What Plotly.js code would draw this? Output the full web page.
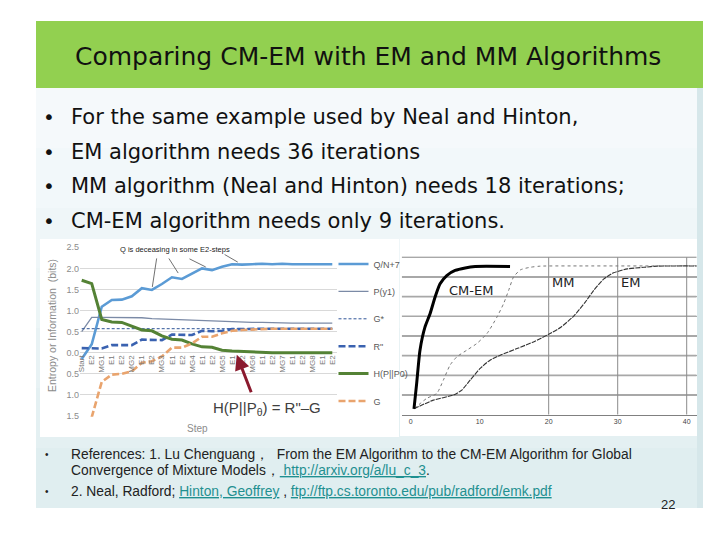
<!DOCTYPE html>
<html>
<head>
<meta charset="utf-8">
<script src="https://cdn.plot.ly/plotly-3.0.1.min.js"></script>
<style>
html,body{margin:0;padding:0;background:#fff;}
#chart{width:720px;height:540px;}
</style>
</head>
<body>
<div id="chart"></div>
<script>
// ---------- DATA ----------
// Left chart: steps of the CM-EM iteration
const steps = [0,1,2,3,4,5,6,7,8,9,10,11,12,13,14,15,16,17,18,19,20,21,22,23,24,25];
const stepLabels = ["Start","E2","MG1","E1","E2","MG2","E1","E2","MG3","E1","E2","MG4","E1","E2","MG5","E1","E2","MG6","E1","E2","MG7","E1","E2","MG8","E1","E2"];
const qN7   = [-0.15,0.20,1.09,1.25,1.26,1.34,1.53,1.49,1.63,1.79,1.75,1.88,2.00,1.96,2.04,2.10,2.09,2.10,2.11,2.10,2.11,2.10,2.10,2.09,2.10,2.10];
const pY1   = [0.50,0.84,0.84,0.84,0.84,0.83,0.83,0.81,0.80,0.80,0.78,0.77,0.77,0.75,0.74,0.74,0.73,0.72,0.72,0.71,0.70,0.70,0.70,0.70,0.70,0.70];
const gStar = [0.57,0.57,0.57,0.57,0.57,0.57,0.57,0.57,0.57,0.57,0.57,0.57,0.57,0.57,0.57,0.57,0.57,0.57,0.57,0.57,0.57,0.57,0.57,0.57,0.57,0.57];
const rDbl  = [0.11,0.10,0.10,0.18,0.18,0.18,0.31,0.30,0.30,0.43,0.42,0.42,0.52,0.51,0.52,0.56,0.56,0.57,0.57,0.57,0.57,0.57,0.57,0.57,0.57,0.57];
const hPP0  = [1.72,1.64,0.79,0.73,0.72,0.63,0.54,0.52,0.40,0.32,0.30,0.21,0.14,0.13,0.06,0.04,0.03,0.02,0.00,0.00,0.00,0.00,0.00,0.00,0.00,0.00];
const gVal  = [-1.60,-1.53,-0.69,-0.52,-0.50,-0.44,-0.24,-0.20,-0.09,0.12,0.12,0.22,0.38,0.38,0.46,0.52,0.54,0.55,0.57,0.57,0.57,0.57,0.57,0.57,0.57,0.57];
const seriesNames = ["Q/N+7","P(y1)","G*","R\"","H(P||P0)","G"];
const yTickVals = [-1.5,-1.0,-0.5,0.0,0.5,1.0,1.5,2.0,2.5];
const yTickText = ["1.5","1.0","0.5","0.0","0.5","1.0","1.5","2.0","2.5"];

// Right chart: convergence curves vs. iteration
const cmemX = [0.48,0.87,1.35,2.08,2.81,3.53,4.26,5.23,6.44,7.9,9.35,14.4];
const cmemY = [0.30,1.59,3.28,4.46,5.13,5.97,6.65,7.07,7.33,7.46,7.53,7.53];
const mmX = [0.48,2.33,3.78,4.74,5.71,6.69,8.14,9.59,11.05,12.5,13.46,14.19,14.9,15.9,17.3,18.8,25,30,35,41.5];
const mmY = [0.30,0.83,1.08,1.76,2.52,2.94,3.28,3.62,4.12,4.96,5.64,6.31,6.99,7.36,7.49,7.55,7.56,7.56,7.56,7.57];
const emX = [0.48,3.29,6.2,7.41,8.62,10.07,11.5,12.98,15.4,17.8,20,21.7,23.6,25.3,26.5,28.0,29.4,31.4,33.8,35.7,41.5];
const emY = [0.30,0.74,1.00,1.25,1.76,2.35,2.77,3.02,3.36,3.70,4.09,4.43,5.00,5.72,6.31,6.90,7.21,7.41,7.49,7.55,7.56];
const rightTicks = [0,10,20,30,40];
const rightGridX = [20,30,40];
const rightGridY = [1,2,3,4,5,6,7,8];
const curveNames = ["CM-EM","MM","EM"];

// Slide texts
const slideTitle = "Comparing CM-EM with EM and MM Algorithms";
const bulletLines = [
  "For the same example used by Neal and Hinton,",
  "EM algorithm needs 36 iterations",
  "MM algorithm (Neal and Hinton) needs 18 iterations;",
  "CM-EM algorithm needs only 9 iterations."
];
const refLines = [
  "References: 1. Lu Chenguang，  From the EM Algorithm to the CM-EM Algorithm for Global",
  "Convergence of Mixture Models，<span style='color:#1f9090'><u> http://arxiv.org/a/lu_c_3</u></span>.",
  "2. Neal, Radford; <span style='color:#1f9090'><u>Hinton, Geoffrey</u></span> , <span style='color:#1f9090'><u>ftp://ftp.cs.toronto.edu/pub/radford/emk.pdf</u></span>"
];
const pageNumber = "22";

// ---------- helpers (pixel -> paper) ----------
const W = 720, H = 540;
const px = v => v / W;
const py = v => 1 - v / H;
const rightXRange = [-1.3, 41.45];
const rightYRange = [0, 8.05];

// ---------- traces ----------
const traces = [
  {x: steps, y: qN7, name: seriesNames[0], legendgroup: "a", mode: "lines", line: {color: "#5B9BD5", width: 2.6}, xaxis: "x", yaxis: "y"},
  {x: steps, y: pY1, name: seriesNames[1], legendgroup: "b", mode: "lines", line: {color: "#7b8aa6", width: 1.3}, xaxis: "x", yaxis: "y"},
  {x: steps, y: gStar, name: seriesNames[2], legendgroup: "c", mode: "lines", line: {color: "#2F5597", width: 1, dash: "3px,2px"}, xaxis: "x", yaxis: "y"},
  {x: steps, y: rDbl, name: seriesNames[3], legendgroup: "d", mode: "lines", line: {color: "#3A62B0", width: 2.6, dash: "7px,3px"}, xaxis: "x", yaxis: "y"},
  {x: steps, y: hPP0, name: seriesNames[4], legendgroup: "e", mode: "lines", line: {color: "#548235", width: 3}, xaxis: "x", yaxis: "y"},
  {x: steps, y: gVal, name: seriesNames[5], legendgroup: "f", mode: "lines", line: {color: "#E9A46E", width: 2.6, dash: "7px,3px"}, xaxis: "x", yaxis: "y"},
  {x: emX, y: emY, name: curveNames[2], showlegend: false, mode: "lines", line: {color: "#333333", width: 1.1, dash: "5px,1px", shape: "spline", smoothing: 0.6}, xaxis: "x2", yaxis: "y2"},
  {x: mmX, y: mmY, name: curveNames[1], showlegend: false, mode: "lines", line: {color: "#777777", width: 1, dash: "dot", shape: "spline", smoothing: 0.6}, xaxis: "x2", yaxis: "y2"},
  {x: cmemX, y: cmemY, name: curveNames[0], showlegend: false, mode: "lines", line: {color: "#000000", width: 3, shape: "spline", smoothing: 0.6}, xaxis: "x2", yaxis: "y2"}
];

// ---------- decorative shapes ----------
const bandColors = ["#F5F9FB","#F2F8FA","#EFF6F8","#ECF5F6","#E8F2F4","#E4F0F2","#E0EEF0"];
const shapes = [];
bandColors.forEach((c, i) => {
  shapes.push({type: "rect", xref: "paper", yref: "paper", layer: "below",
    x0: px(36), x1: px(703), y0: py(88 + i * 60), y1: py(88 + (i + 1) * 60),
    fillcolor: c, line: {width: 0}});
});
shapes.push({type: "rect", xref: "paper", yref: "paper", layer: "below",
  x0: px(697), x1: px(703), y0: py(88), y1: py(508), fillcolor: "#D6E7EA", line: {width: 0}});
shapes.push({type: "rect", xref: "paper", yref: "paper", layer: "below",
  x0: px(36), x1: px(703), y0: py(21), y1: py(88), fillcolor: "#92D050", line: {width: 0}});
// the two chart images' white backgrounds
shapes.push({type: "rect", xref: "paper", yref: "paper", layer: "below",
  x0: px(40), x1: px(399), y0: py(239), y1: py(437), fillcolor: "#FFFFFF", line: {width: 0}});
shapes.push({type: "rect", xref: "paper", yref: "paper", layer: "below",
  x0: px(400), x1: px(697), y0: py(239), y1: py(436), fillcolor: "#FFFFFF", line: {width: 0}});
// grid lines of right chart
rightGridY.forEach(v => {
  shapes.push({type: "line", xref: "x2", yref: "y2", x0: rightXRange[0], x1: rightXRange[1], y0: v, y1: v,
    line: {color: "#a8a8a8", width: 1.6}, layer: "between"});
});
rightGridX.forEach(v => {
  shapes.push({type: "line", xref: "x2", yref: "y2", x0: v, x1: v, y0: 0, y1: 8,
    line: {color: "#8c8c8c", width: 1}, layer: "between"});
});

// ---------- annotations ----------
const ann = [];
ann.push({text: slideTitle, xref: "paper", yref: "paper", x: px(367.5), y: py(57),
  xanchor: "center", yanchor: "middle", showarrow: false,
  font: {family: "DejaVu Sans", size: 25, color: "#111111"}});
bulletLines.forEach((t, i) => {
  const yc = 117 + i * 34.7;
  ann.push({text: "•", xref: "paper", yref: "paper", x: px(48.5), y: py(yc),
    xanchor: "center", yanchor: "middle", showarrow: false,
    font: {family: "DejaVu Sans", size: 20, color: "#111111"}});
  ann.push({text: t, xref: "paper", yref: "paper", x: px(69), y: py(yc),
    xanchor: "left", yanchor: "middle", showarrow: false,
    font: {family: "DejaVu Sans", size: 21, color: "#111111"}});
});
const refY = [454, 470, 491];
refLines.forEach((t, i) => {
  ann.push({text: t, xref: "paper", yref: "paper", x: px(69), y: py(refY[i]),
    xanchor: "left", yanchor: "middle", showarrow: false,
    font: {family: "Liberation Sans", size: 13.8, color: "#222222"}});
});
[454, 491].forEach(yc => {
  ann.push({text: "•", xref: "paper", yref: "paper", x: px(47), y: py(yc),
    xanchor: "center", yanchor: "middle", showarrow: false,
    font: {family: "Liberation Sans", size: 10, color: "#222222"}});
});
ann.push({text: pageNumber, xref: "paper", yref: "paper", x: px(668), y: py(504),
  xanchor: "center", yanchor: "middle", showarrow: false,
  font: {family: "Liberation Sans", size: 13, color: "#222222"}});

// left chart texts
ann.push({text: "Entropy or Information  (bits)", xref: "paper", yref: "paper",
  x: px(52), y: py(325), textangle: -90, xanchor: "center", yanchor: "middle",
  showarrow: false, font: {family: "Liberation Sans", size: 10.5, color: "#8c8c8c"}});
ann.push({text: "Step", xref: "paper", yref: "paper", x: px(197), y: py(428),
  xanchor: "center", yanchor: "middle", showarrow: false,
  font: {family: "Liberation Sans", size: 10, color: "#8c8c8c"}});
ann.push({text: "Q is deceasing in some E2-steps", xref: "paper", yref: "paper",
  x: px(175), y: py(249), xanchor: "center", yanchor: "middle", showarrow: false,
  font: {family: "Liberation Sans", size: 7.5, color: "#222222"}});
const qArrows = [
  {i: 7, ax: 5, ay: -33, s: 3},
  {i: 10, ax: -14, ay: -22, s: 7},
  {i: 13, ax: -24, ay: -12, s: 7},
  {i: 16, ax: -19, ay: -11, s: 5}
];
qArrows.forEach(a => {
  ann.push({text: "", xref: "x", yref: "y", x: steps[a.i], y: qN7[a.i],
    ax: a.ax, ay: a.ay, showarrow: true, arrowhead: 0, arrowwidth: 0.7,
    arrowcolor: "#333333", standoff: a.s});
});
ann.push({text: "", xref: "x", yref: "y", x: 15.47, y: -0.05, ax: 15, ay: 39,
  showarrow: true, arrowhead: 2, arrowsize: 1, arrowwidth: 3, arrowcolor: "#8B1A2E"});
ann.push({text: "H(P||P<sub>θ</sub>) = R\"–G", xref: "paper", yref: "paper",
  x: px(266.7), y: py(408), xanchor: "center", yanchor: "middle", showarrow: false,
  font: {family: "Liberation Sans", size: 15, color: "#404040"}});

// right chart labels
const curveLabelPos = [[470.7, 290], [563.3, 282], [630, 282]];
curveNames.forEach((n, i) => {
  ann.push({text: n, xref: "paper", yref: "paper", x: px(curveLabelPos[i][0]), y: py(curveLabelPos[i][1]),
    xanchor: "center", yanchor: "middle", showarrow: false,
    font: {family: "DejaVu Sans", size: 13, color: "#222222"}});
});

// ---------- layout ----------
const layout = {
  width: W, height: H, autosize: false,
  margin: {l: 0, r: 0, t: 0, b: 0, pad: 0},
  paper_bgcolor: "#FFFFFF", plot_bgcolor: "rgba(0,0,0,0)",
  font: {family: "Liberation Sans, Arial, sans-serif"},
  showlegend: true,
  legend: {x: px(333.5), xanchor: "left", y: py(249.5), yanchor: "top",
    bgcolor: "rgba(0,0,0,0)", borderwidth: 0, tracegroupgap: 8.4,
    font: {family: "Liberation Sans", size: 9, color: "#595959"}},
  xaxis: {domain: [px(80), px(337)], range: [-0.17, 25.47], anchor: "free",
    position: 1 - 352.7 / H, tickmode: "array", tickvals: steps, ticktext: stepLabels,
    tickangle: -90, tickfont: {size: 8, color: "#777777"}, showgrid: false,
    zeroline: false, showline: false, ticks: "", fixedrange: true},
  yaxis: {domain: [py(416.8), py(246.5)], range: [-1.52, 2.52], anchor: "x",
    tickmode: "array", tickvals: yTickVals, ticktext: yTickText,
    tickfont: {size: 9, color: "#8c8c8c"}, showgrid: true, gridcolor: "#d9d9d9", gridwidth: 1,
    zeroline: false, showline: false, ticks: "", fixedrange: true},
  xaxis2: {domain: [px(401.7), px(696.7)], range: rightXRange, anchor: "y2",
    tickmode: "array", tickvals: rightTicks, tickfont: {size: 7, color: "#444444"},
    showgrid: false, zeroline: false, showline: true, linecolor: "#808080",
    linewidth: 1, ticks: "", fixedrange: true},
  yaxis2: {domain: [py(414.7), py(256.3)], range: rightYRange, anchor: "x2",
    tickmode: "array", tickvals: rightGridY, showticklabels: false,
    showgrid: true, gridcolor: "#a8a8a8", gridwidth: 1.6, zeroline: false, showline: false,
    ticks: "", fixedrange: true},
  shapes: shapes,
  annotations: ann
};

Plotly.newPlot("chart", traces, layout, {staticPlot: true, displayModeBar: false});
</script>
</body>
</html>
